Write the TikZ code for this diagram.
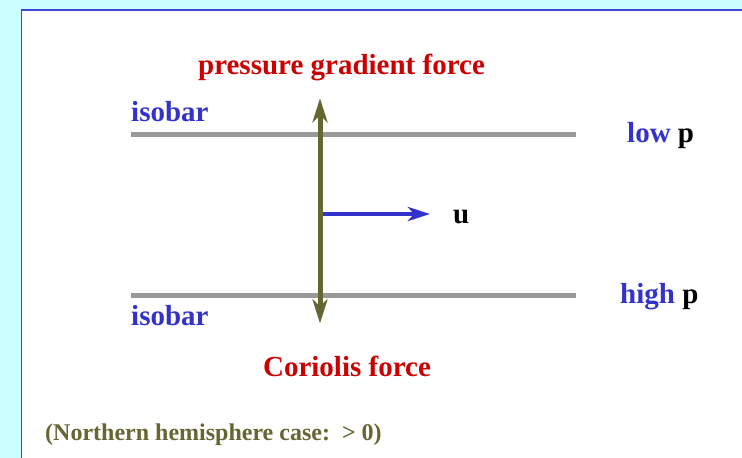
\documentclass[tikz,border=0pt]{standalone}
\usepackage{fontspec}
\setmainfont{Liberation Serif}
\usetikzlibrary{arrows.meta}
\definecolor{bgcyan}{HTML}{CCFFFF}
\definecolor{frameblue}{HTML}{4444DD}
\definecolor{txtblue}{HTML}{3333CC}
\definecolor{forcered}{HTML}{CC0000}
\definecolor{forceolive}{HTML}{666633}
\definecolor{isogray}{HTML}{999999}
\tikzset{
  lbl/.style={inner sep=0pt, font=\fontsize{29}{29}\selectfont\bfseries},
  notelbl/.style={inner sep=0pt, font=\fontsize{24}{24}\selectfont\bfseries, text=forceolive},
  isobarline/.style={draw=isogray, line width=5pt},
  forcearrow/.style={draw=forceolive, line width=5pt,
    {Stealth[length=24pt,width=15pt,inset=7pt]}-{Stealth[length=24pt,width=15pt,inset=7pt]}},
  windarrow/.style={draw=txtblue, line width=4pt,
    -{Stealth[length=22pt,width=14pt,inset=6pt]}},
}
\begin{document}
\begin{tikzpicture}[x=1pt,y=-1pt]
\useasboundingbox (0,0) rectangle (742,458);
\fill[bgcyan] (0,0) rectangle (742,458);
\fill[white] (21.5,10.2) rectangle (742,458);
\draw[frameblue, line width=1.5pt] (21.5,458) |- (742,10.2);

% isobars
\coordinate (iso1a) at (131,134);
\coordinate (iso1b) at (576,134);
\coordinate (iso2a) at (131,295);
\coordinate (iso2b) at (576,295);
\draw[isobarline] (iso1a) -- (iso1b);
\draw[isobarline] (iso2a) -- (iso2b);

% wind arrow
\coordinate (ustart) at (320,214);
\coordinate (uend) at (430,214);
\draw[windarrow] (ustart) -- (uend);

% force arrow
\coordinate (ftop) at (320,98.3);
\coordinate (fbot) at (320,323.3);
\draw[forcearrow] (ftop) -- (fbot);

% labels
\node[lbl, text=forcered, anchor=base] (pgf) at (341.5,74.5) {pressure gradient force};
\node[lbl, text=forcered, anchor=base] (cor) at (347,376.7) {Coriolis force};
\node[lbl, text=txtblue, anchor=base west] (isolab1) at (131,121.7) {isobar};
\node[lbl, text=txtblue, anchor=base west] (isolab2) at (131,325) {isobar};
\node[lbl, anchor=base west] (lowp) at (627,142.7) {\textcolor{txtblue}{low} p};
\node[lbl, anchor=base west] (highp) at (620,303) {\textcolor{txtblue}{high} p};
\node[lbl, anchor=base west] (ulab) at (453,223) {u};
\node[notelbl, anchor=base west] (note) at (45,440) {(Northern hemisphere case:\ \ > 0)};
\end{tikzpicture}
\end{document}
